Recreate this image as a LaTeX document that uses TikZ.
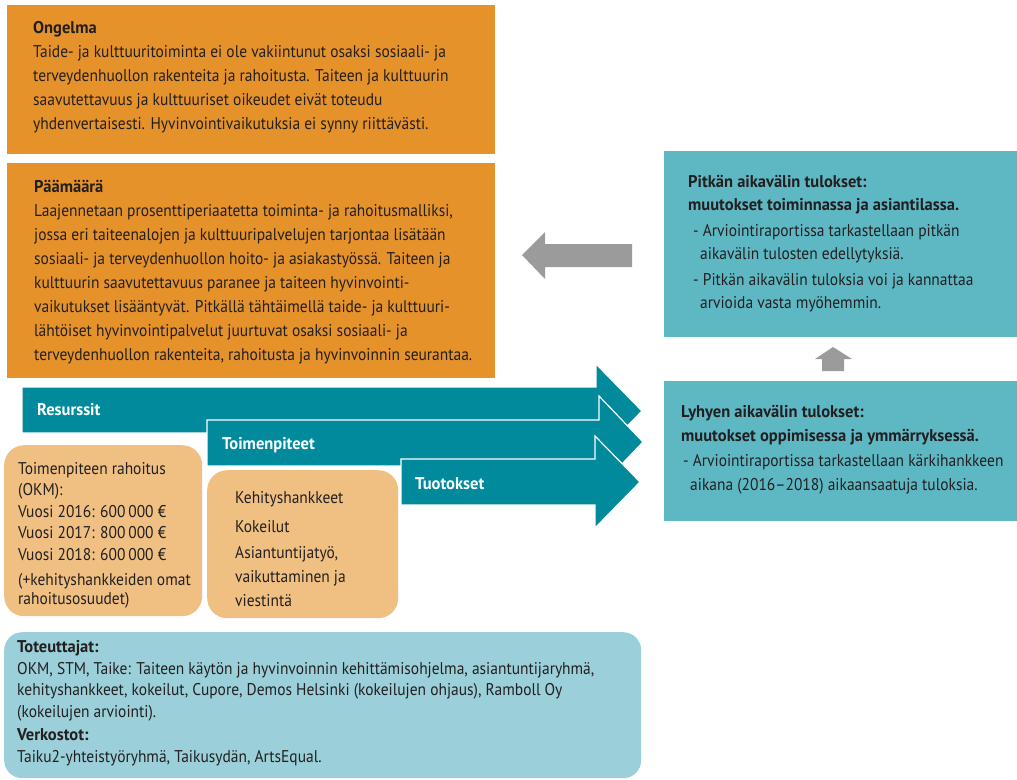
\documentclass[tikz,border=0pt]{standalone}
\usepackage{fontspec}
\setmainfont{PT Sans}[FakeStretch=0.91, BoldFeatures={FakeStretch=0.97}]
\usetikzlibrary{positioning}
\definecolor{ongorange}{RGB}{229,146,43}
\definecolor{arrowteal}{RGB}{0,138,155}
\definecolor{resteal}{RGB}{94,184,196}
\definecolor{softorange}{RGB}{240,192,130}
\definecolor{softteal}{RGB}{155,208,218}
\definecolor{arrowgray}{RGB}{155,155,155}
\definecolor{ink}{RGB}{35,31,32}

\begin{document}
\begin{tikzpicture}[x=1pt, y=-1pt,
    every node/.style={inner sep=0pt},
    box/.style={fill=#1, draw=none, anchor=north west},
    rbox/.style={box=#1, rounded corners=20pt},
    txt/.style={anchor=base west, align=left, text=ink, font=\fontsize{17}{#1}\selectfont},
    txt/.default=24,
    band/.style={fill=arrowteal, draw=white, line width=1.2pt, line join=miter},
    lbl/.style={anchor=base west, text=white, font=\fontsize{17}{24}\selectfont\bfseries},
    gray arrow/.style={fill=arrowgray}]

\useasboundingbox (0,0) rectangle (1017,779);

% problem and goal (text nodes sit on their last baseline)
\node[box=ongorange, minimum width=488pt, minimum height=149pt] (ongbox) at (7,5) {};
\node[box=ongorange, minimum width=488pt, minimum height=215pt] (paabox) at (7,163) {};
\node[txt] (ong) at (33,129) {\textbf{Ongelma}\\
Taide- ja kulttuuritoiminta ei ole vakiintunut osaksi sosiaali- ja\\
terveydenhuollon rakenteita ja rahoitusta. Taiteen ja kulttuurin\\
saavutettavuus ja kulttuuriset oikeudet eivät toteudu\\
yhdenvertaisesti. Hyvinvointivaikutuksia ei synny riittävästi.};
\node[txt] (paa) at (34,360) {\textbf{Päämäärä}\\
Laajennetaan prosenttiperiaatetta toiminta- ja rahoitusmalliksi,\\
jossa eri taiteenalojen ja kulttuuripalvelujen tarjontaa lisätään\\
sosiaali- ja terveydenhuollon hoito- ja asiakastyössä. Taiteen ja\\
kulttuurin saavutettavuus paranee ja taiteen hyvinvointi-\\
vaikutukset lisääntyvät. Pitkällä tähtäimellä taide- ja kulttuuri-\\
lähtöiset hyvinvointipalvelut juurtuvat osaksi sosiaali- ja\\
terveydenhuollon rakenteita, rahoitusta ja hyvinvoinnin seurantaa.};

% results
\node[box=resteal, minimum width=353pt, minimum height=186pt] (longbox) at (664,151) {};
\node[box=resteal, minimum width=353pt, minimum height=140pt] (shortbox) at (664,381) {};
\node[txt=22.5] (long) at (688,308) {\textbf{Pitkän aikavälin tulokset:}\\
\textbf{muutokset toiminnassa ja asiantilassa.}\\[4pt]
\hspace*{5pt}- Arviointiraportissa tarkastellaan pitkän\\
\hspace*{12pt}aikavälin tulosten edellytyksiä.\\[4pt]
\hspace*{5pt}- Pitkän aikavälin tuloksia voi ja kannattaa\\
\hspace*{12pt}arvioida vasta myöhemmin.};
\node[txt=23.5] (short) at (681,490) {\textbf{Lyhyen aikavälin tulokset:}\\
\textbf{muutokset oppimisessa ja ymmärryksessä.}\\[2pt]
\hspace*{2pt}- Arviointiraportissa tarkastellaan kärkihankkeen\\
\hspace*{9pt}aikana (2016--2018) aikaansaatuja tuloksia.};

% gray arrows
\coordinate (backtip) at (522,255);
\coordinate (uptip) at (833,347);
\path[gray arrow] (backtip) -- ++(23,-23) -- ++(0,12) -- ++(87,0) -- ++(0,23)
    -- ++(-87,0) -- ++(0,12) -- cycle;
\path[gray arrow] (uptip) -- ++(19,12) -- ++(-8,0) -- ++(0,12) -- ++(-22,0)
    -- ++(0,-12) -- ++(-7,0) -- cycle;

% chain of arrows
\path[band] (22,387) -- (596,387) -- (596,364) -- (642,411) -- (596,458)
    -- (596,433) -- (22,433) -- cycle;
\path[band] (207,420) -- (599,420) -- (599,396) -- (643,442) -- (599,488)
    -- (599,466) -- (207,466) -- cycle;
\path[band] (401,459) -- (595,459) -- (595,436) -- (640,482) -- (595,528)
    -- (595,505) -- (401,505) -- cycle;
\node[lbl] (res) at (37,415) {Resurssit};
\node[lbl] (toi) at (222,449) {Toimenpiteet};
\node[lbl] (tuo) at (415,489) {Tuotokset};

% resources and actions
\node[rbox=softorange, minimum width=198pt, minimum height=171pt] (rahbox) at (4,445) {};
\node[rbox=softorange, minimum width=191pt, minimum height=148pt] (kehbox) at (207,470) {};
\node[txt=21.5] (rah) at (18,604) {Toimenpiteen rahoitus\\
(OKM):\\
Vuosi 2016: 600\,000 €\\
Vuosi 2017: 800\,000 €\\
Vuosi 2018: 600\,000 €\\[4pt]
(+kehityshankkeiden omat\\[-3pt]
rahoitusosuudet)};
\node[txt] (keh) at (235,606) {Kehityshankkeet\\[5pt]
Kokeilut\\[2pt]
Asiantuntijatyö,\\
vaikuttaminen ja\\
viestintä};

% implementers
\node[rbox=softteal, rounded corners=18pt, minimum width=637pt, minimum height=146pt] (totbox) at (4,632) {};
\node[txt=21.5] (tot) at (17,762) {\textbf{Toteuttajat:}\\
OKM, STM, Taike: Taiteen käytön ja hyvinvoinnin kehittämisohjelma, asiantuntijaryhmä,\\
kehityshankkeet, kokeilut, Cupore, Demos Helsinki (kokeilujen ohjaus), Ramboll Oy\\
(kokeilujen arviointi).\\[2pt]
\textbf{Verkostot:}\\
Taiku2-yhteistyöryhmä, Taikusydän, ArtsEqual.};
\end{tikzpicture}
\end{document}
